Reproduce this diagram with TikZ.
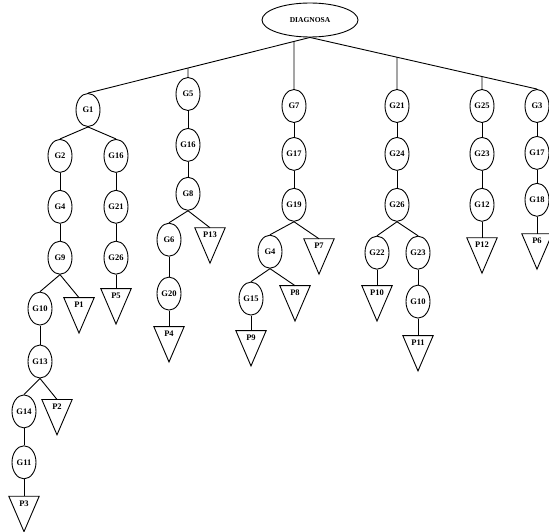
\documentclass[tikz,border=0pt]{standalone}
\usepackage{fontspec}
\setmainfont{Liberation Serif}
\usetikzlibrary{shapes.geometric,positioning}

\begin{document}
\begin{tikzpicture}[
  x=1pt, y=-1pt,
  gnode/.style={ellipse, draw, line width=0.9pt, minimum width=24pt, minimum height=33pt, inner sep=0pt, font=\fontsize{8.5}{9}\selectfont\bfseries},
  rootnode/.style={ellipse, draw, line width=0.9pt, minimum width=96pt, minimum height=34pt, inner sep=0pt, font=\fontsize{7.5}{8}\selectfont\bfseries},
  pnode/.style={minimum width=30pt, text height=10pt, text depth=25pt, inner sep=0pt, font=\fontsize{8.5}{9}\selectfont\bfseries,
    append after command={\pgfextra{\draw[link] (\tikzlastnode.north west) -- (\tikzlastnode.north east) -- (\tikzlastnode.south) -- cycle;}}},
  link/.style={line width=0.9pt},
  node distance=17pt
]
  \useasboundingbox (0,0) rectangle (549,532);

  \node[rootnode] (root) at (310,20) {DIAGNOSA};

  % first branch
  \node[gnode] (g1) at (88,110) {G1};
  \node[gnode, below=12pt of g1, xshift=-28pt] (g2) {G2};
  \node[gnode, below=12pt of g1, xshift=28pt] (g16) {G16};
  \node[gnode, below=of g2] (g4) {G4};
  \node[gnode, below=of g16] (g21) {G21};
  \node[gnode, below=of g4] (g9) {G9};
  \node[gnode, below=of g21] (g26) {G26};
  \node[gnode, below=of g9, xshift=-20pt] (g10) {G10};
  \node[pnode, below=23pt of g9, xshift=19pt] (p1) {P1};
  \node[pnode, below=14pt of g26] (p5) {P5};
  \node[gnode, below=19pt of g10] (g13) {G13};
  \node[gnode, below=16pt of g13, xshift=-16pt] (g14) {G14};
  \node[pnode, below=21pt of g13, xshift=17pt] (p2) {P2};
  \node[gnode, below=of g14] (g11) {G11};
  \node[pnode, below=of g11] (p3) {P3};

  % second branch
  \node[gnode] (g5) at (188,94) {G5};
  \node[gnode, below=of g5] (g16b) {G16};
  \node[gnode, below=15pt of g16b] (g8) {G8};
  \node[gnode, below=12pt of g8, xshift=-19pt] (g6) {G6};
  \node[pnode, below=17pt of g8, xshift=22pt] (p13) {P13};
  \node[gnode, below=20pt of g6] (g20) {G20};
  \node[pnode, below=16pt of g20] (p4) {P4};

  % third branch
  \node[gnode] (g7) at (294,106) {G7};
  \node[gnode, below=14pt of g7] (g17) {G17};
  \node[gnode, below=of g17] (g19) {G19};
  \node[gnode, below=13pt of g19, xshift=-24pt] (g4b) {G4};
  \node[pnode, below=17pt of g19, xshift=25pt] (p7) {P7};
  \node[gnode, below=13pt of g4b, xshift=-19pt] (g15) {G15};
  \node[pnode, below=17pt of g4b, xshift=25pt] (p8) {P8};
  \node[pnode, below=15pt of g15] (p9) {P9};

  % fourth branch
  \node[gnode] (g21b) at (397,106) {G21};
  \node[gnode, below=14pt of g21b] (g24) {G24};
  \node[gnode, below=of g24] (g26b) {G26};
  \node[gnode, below=14pt of g26b, xshift=-20pt] (g22) {G22};
  \node[gnode, below=14pt of g26b, xshift=21pt] (g23) {G23};
  \node[pnode, below=16pt of g22] (p10) {P10};
  \node[gnode, below=15pt of g23] (g10b) {G10};
  \node[pnode, below=17pt of g10b] (p11) {P11};

  % fifth branch
  \node[gnode] (g25) at (482,106) {G25};
  \node[gnode, below=14pt of g25] (g23b) {G23};
  \node[gnode, below=of g23b] (g12) {G12};
  \node[pnode, below=16pt of g12] (p12) {P12};

  % sixth branch
  \node[gnode] (g3) at (537,106) {G3};
  \node[gnode, below=13pt of g3] (g17b) {G17};
  \node[gnode, below=13pt of g17b] (g18) {G18};
  \node[pnode, below=17pt of g18] (p6) {P6};

  % links from the root
  \draw[link] (root.south) -- (g1.north);
  \draw[link] (root.south) -- (g3.north);
  \draw[link] (g5.north) -- (intersection of root.south--g1.north and g5.north--g5.south);
  \draw[link] (g7.north) -- (intersection of root.south--g1.north and g7.north--g7.south);
  \draw[link] (g21b.north) -- (intersection of root.south--g3.north and g21b.north--g21b.south);
  \draw[link] (g25.north) -- (intersection of root.south--g3.north and g25.north--g25.south);

  \draw[link] (g1.south) -- (g2.north);
  \draw[link] (g1.south) -- (g16.north);
  \draw[link] (g2) -- (g4);
  \draw[link] (g4) -- (g9);
  \draw[link] (g9.south) -- (g10.north);
  \draw[link] (g9.south) -- (p1.north);
  \draw[link] (g10) -- (g13);
  \draw[link] (g13.south) -- (g14.north);
  \draw[link] (g13.south) -- (p2.north);
  \draw[link] (g14) -- (g11);
  \draw[link] (g11.south) -- (p3.north);
  \draw[link] (g16) -- (g21);
  \draw[link] (g21) -- (g26);
  \draw[link] (g26.south) -- (p5.north);

  \draw[link] (g5) -- (g16b);
  \draw[link] (g16b) -- (g8);
  \draw[link] (g8.south) -- (g6.north);
  \draw[link] (g8.south) -- (p13.north);
  \draw[link] (g6.south) -- (g20.north);
  \draw[link] (g20.south) -- (p4.north);

  \draw[link] (g7) -- (g17);
  \draw[link] (g17) -- (g19);
  \draw[link] (g19.south) -- (g4b.north);
  \draw[link] (g19.south) -- (p7.north);
  \draw[link] (g4b.south) -- (g15.north);
  \draw[link] (g4b.south) -- (p8.north);
  \draw[link] (g15.south) -- (p9.north);

  \draw[link] (g21b) -- (g24);
  \draw[link] (g24) -- (g26b);
  \draw[link] (g26b.south) -- (g22.north);
  \draw[link] (g26b.south) -- (g23.north);
  \draw[link] (g22.south) -- (p10.north);
  \draw[link] (g23) -- (g10b);
  \draw[link] (g10b.south) -- (p11.north);

  \draw[link] (g25) -- (g23b);
  \draw[link] (g23b) -- (g12);
  \draw[link] (g12.south) -- (p12.north);

  \draw[link] (g3) -- (g17b);
  \draw[link] (g17b) -- (g18);
  \draw[link] (g18.south) -- (p6.north);
\end{tikzpicture}
\end{document}
